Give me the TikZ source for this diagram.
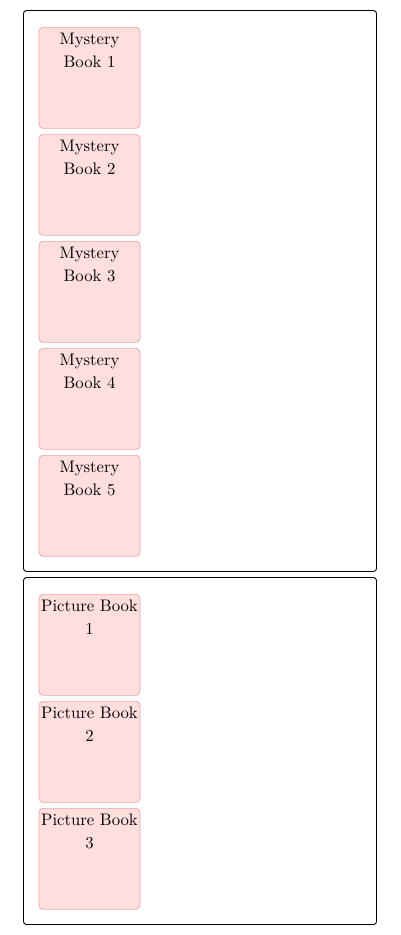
\documentclass[tikz,border=0pt]{standalone}
\usepackage{fontspec}
\usepackage{tikz}
\usetikzlibrary{positioning}
\newfontfamily\booktitlefont{lmroman10-regular}[Extension=.otf]
\definecolor{bookfill}{RGB}{255,222,222}
\definecolor{bookline}{RGB}{236,164,168}

\begin{document}
\begin{tikzpicture}[x=1pt, y=-1pt,
    shelf/.style={draw, line width=0.9pt, rounded corners=3pt, inner sep=0pt},
    book/.style={draw=bookline, fill=bookfill, line width=0.7pt, rounded corners=4pt,
        minimum width=101pt, minimum height=101pt, inner sep=0pt, anchor=north},
    title/.style={inner sep=0pt, text width=101pt, align=center,
        font=\booktitlefont\fontsize{16.7}{23}\selectfont}]
    \useasboundingbox (0,0) rectangle (400,935);
    % the two shelves
    \node[shelf, minimum width=353pt, minimum height=561pt] (mystery) at (200,291) {};
    \node[shelf, minimum width=353pt, minimum height=347pt] (picture) at (200,751) {};
    % books on them
    \foreach \i in {1,...,5} {
        \node[book] (m\i) at (89.5,{27+107*(\i-1)}) {};
        \node[title, below=6pt of m\i.north] (m\i t) {Mystery\\Book \i};
    }
    \foreach \i in {1,...,3} {
        \node[book] (p\i) at (89.5,{594+107*(\i-1)}) {};
        \node[title, below=6pt of p\i.north] (p\i t) {Picture Book\\\i};
    }
\end{tikzpicture}
\end{document}
